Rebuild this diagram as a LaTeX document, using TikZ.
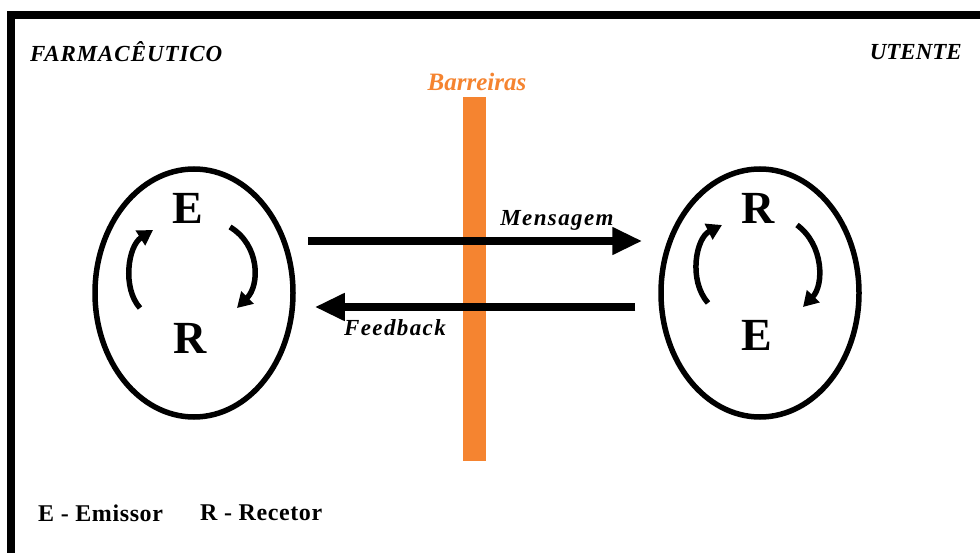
\documentclass[tikz,border=0pt]{standalone}
\usepackage{fontspec}
\setmainfont{Liberation Serif}
\newfontfamily\wideserif[LetterSpace=4]{Liberation Serif}
\newfontfamily\tagserif[LetterSpace=6]{Liberation Serif}
\newfontfamily\keyserif[LetterSpace=2.5]{Liberation Serif}
\usetikzlibrary{shapes.geometric,arrows.meta}
\definecolor{barorange}{RGB}{245,132,48}
\begin{document}
\begin{tikzpicture}[x=1pt,y=-1pt,
  party/.style={font=\wideserif\bfseries\itshape\fontsize{23}{25}\selectfont, inner sep=0pt},
  role/.style={ellipse, draw, line width=5.5pt, minimum width=198pt, minimum height=248pt, inner sep=0pt},
  letter/.style={font=\bfseries\fontsize{46}{48}\selectfont, inner sep=0pt},
  flow/.style={line width=8pt, -{Triangle[length=30pt,width=26pt]}},
  cycle/.style={line width=5.5pt, -{Triangle[length=15pt,width=17pt]}},
  tag/.style={font=\tagserif\bfseries\itshape\fontsize{23}{25}\selectfont, inner sep=0pt},
  legend/.style={font=\keyserif\bfseries\fontsize{24}{26}\selectfont, inner sep=0pt, anchor=west}]
\useasboundingbox (0,0) rectangle (980,553);
\fill[white] (0,0) rectangle (980,553);
% open frame: top and left edges
\draw[line width=8pt] (980,15) -- (11,15) -- (11,553);

% titles
\node[party, anchor=west] (farm) at (30,52) {FARMACÊUTICO};
\node[party, anchor=east, font=\bfseries\itshape\fontsize{23}{25}\selectfont] (utente) at (962,52) {UTENTE};

% barrier
\node[inner sep=0pt, text=barorange, font=\bfseries\itshape\fontsize{25}{27}\selectfont] (barlabel) at (477,82) {Barreiras};
\node[fill=barorange, minimum width=23pt, minimum height=363pt, inner sep=0pt] (bar) at (474.5,279) {};

% the two parties
\node[role] (fe) at (194,293) {};
\node[role] (ue) at (760,293) {};

\node[letter] (fE) at (188,208) {E};
\node[letter] (fR) at (190,338) {R};
\node[letter] (uR) at (758,208) {R};
\node[letter] (uE) at (757,335) {E};

% internal cycles
\draw[cycle] ([shift={(-54,15)}]fe.center) .. controls ([shift={(-72,-5)}]fe.center) and ([shift={(-66,-47)}]fe.center) .. ([shift={(-41,-63)}]fe.center);
\draw[cycle] ([shift={(36,-66)}]fe.center) .. controls ([shift={(66,-48)}]fe.center) and ([shift={(66,-8)}]fe.center) .. ([shift={(43,15)}]fe.center);
\draw[cycle] ([shift={(-52,10)}]ue.center) .. controls ([shift={(-72,-13)}]ue.center) and ([shift={(-64,-55)}]ue.center) .. ([shift={(-38,-68)}]ue.center);
\draw[cycle] ([shift={(37,-68)}]ue.center) .. controls ([shift={(64,-48)}]ue.center) and ([shift={(64,-8)}]ue.center) .. ([shift={(43,14)}]ue.center);

% message and feedback
\draw[flow] ([shift={(12,-52)}]fe.east) -- ([shift={(-16,-52)}]ue.west);
\draw[flow] ([shift={(-23,14)}]ue.west) -- ([shift={(19,14)}]fe.east);
\node[tag] (msg) at (557,220) {Mensagem};
\node[tag] (fb) at (395,328) {Feedback};

% legend
\node[legend] (legE) at (38,513) {E - Emissor};
\node[legend] (legR) at (200,513) {R - Recetor};
\end{tikzpicture}
\end{document}
